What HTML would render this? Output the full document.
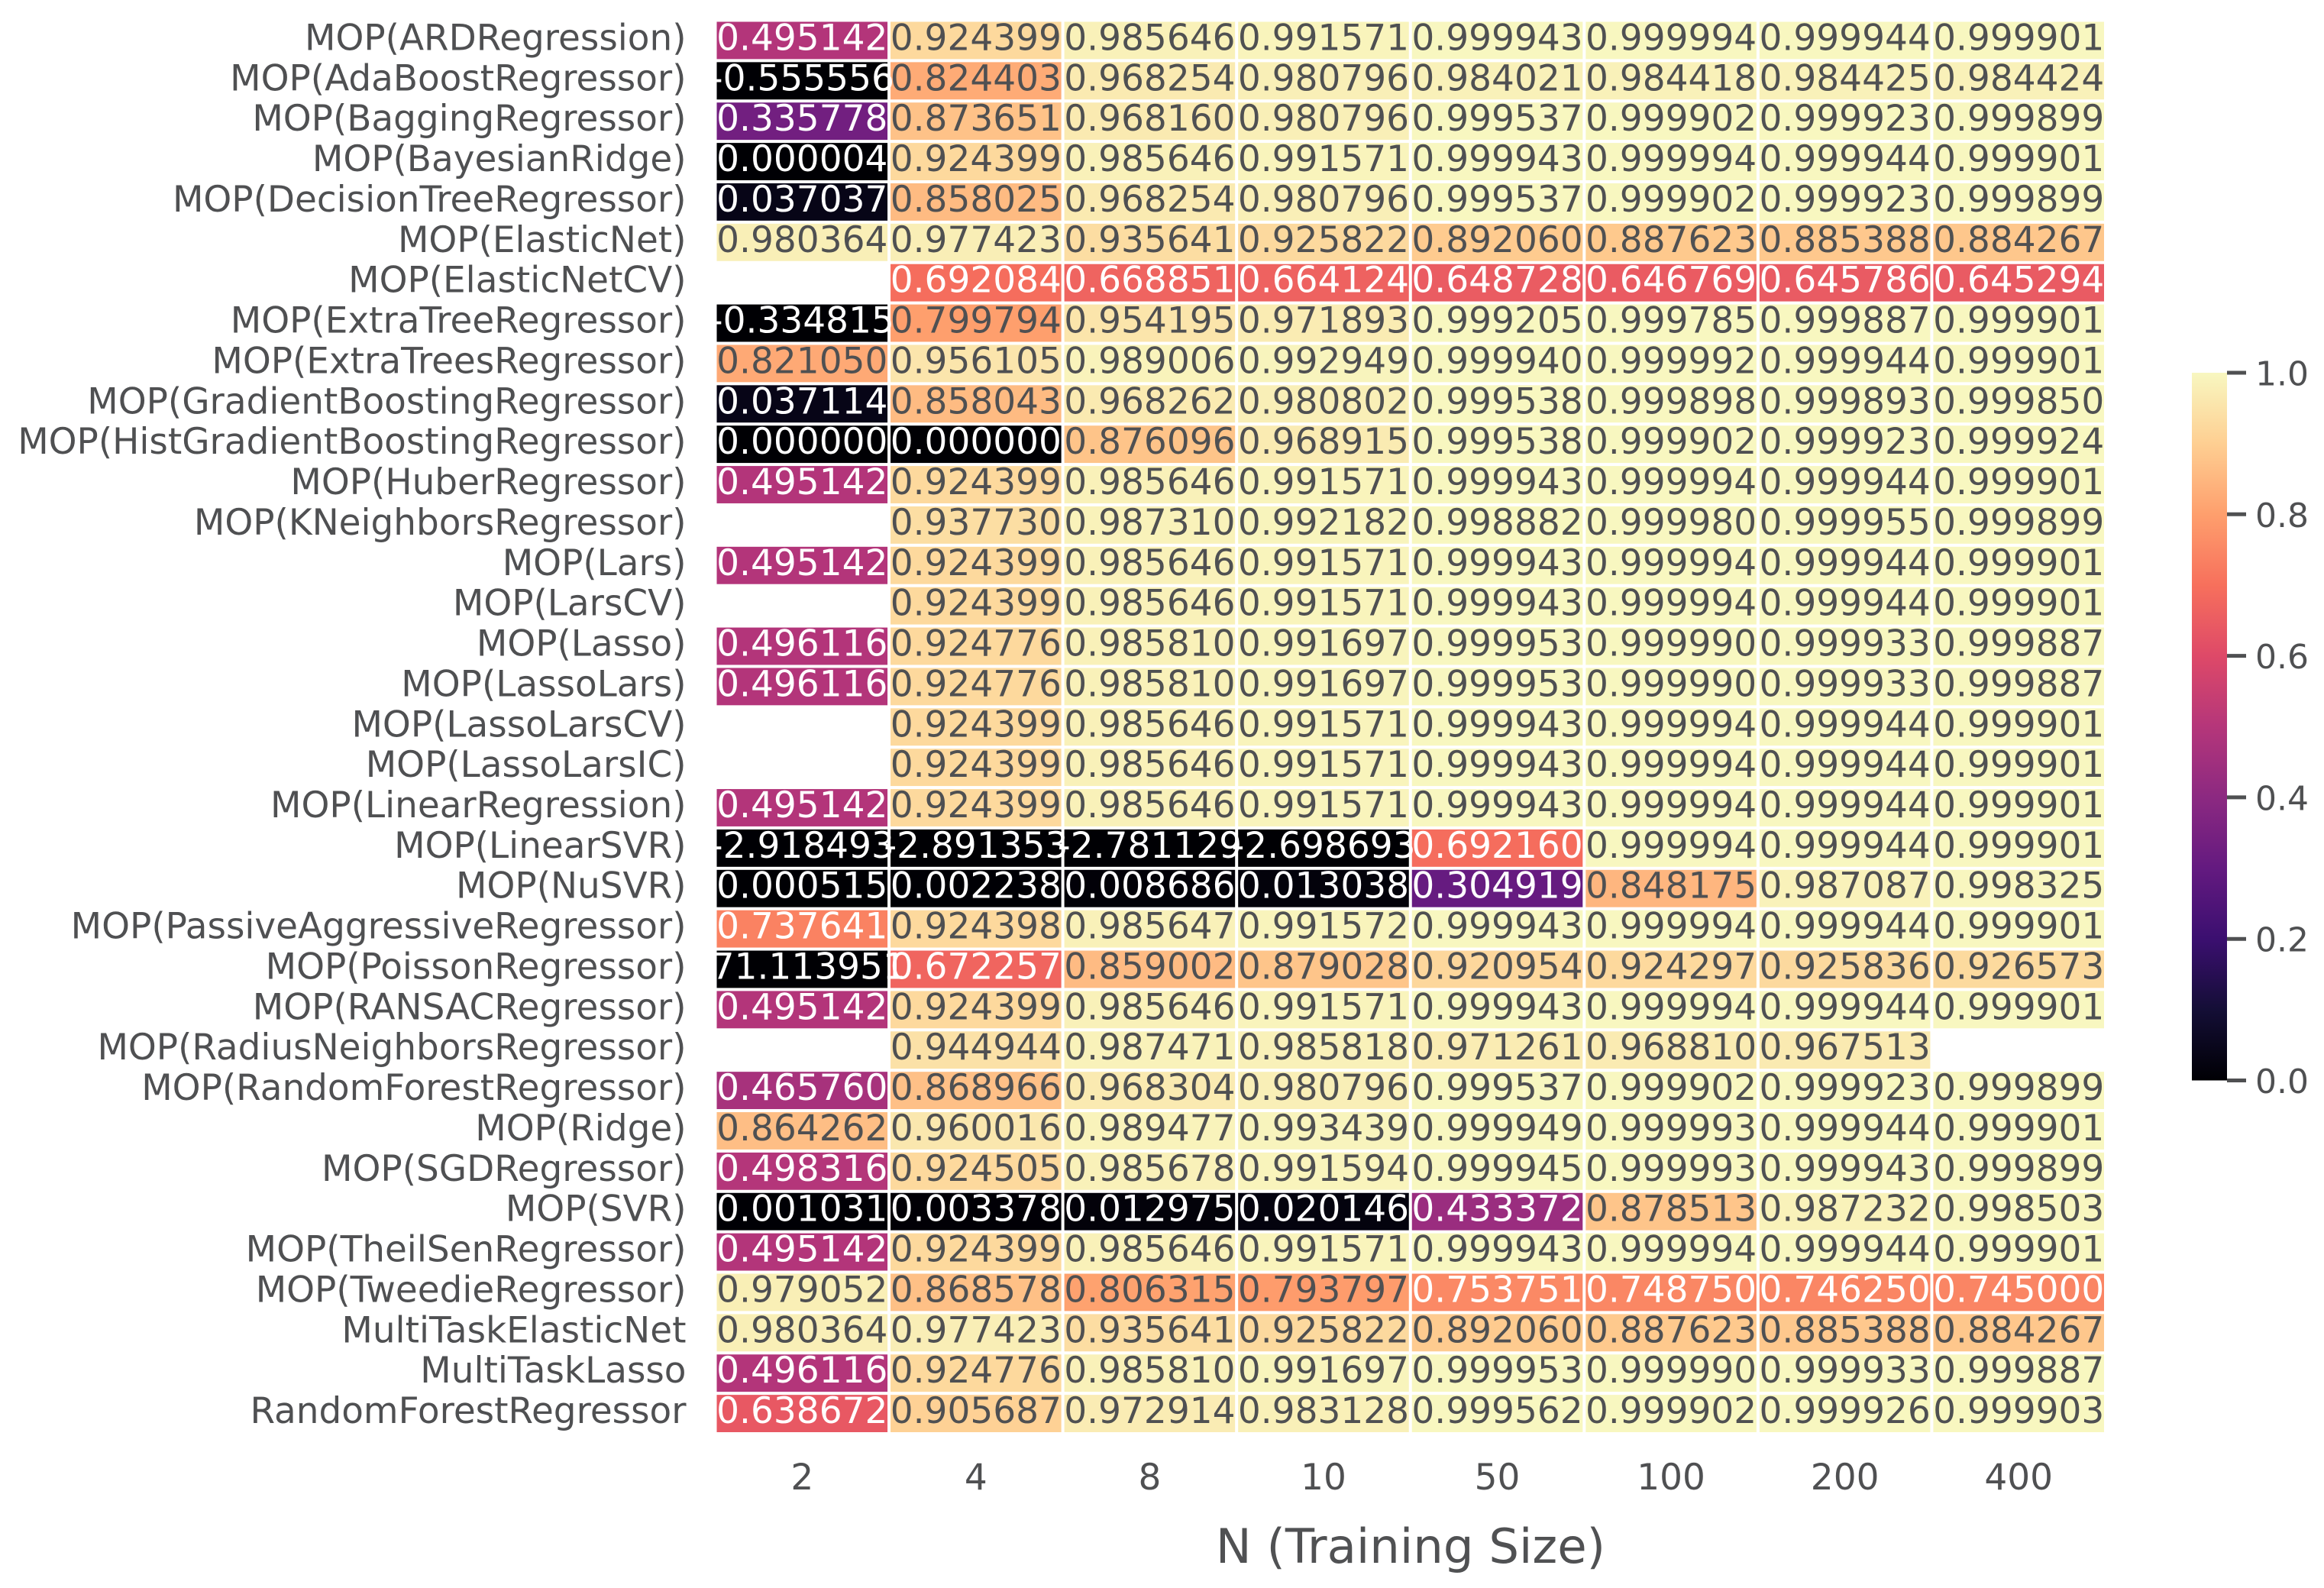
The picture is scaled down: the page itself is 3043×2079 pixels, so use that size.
<!DOCTYPE html>
<html>
<head>
<meta charset="utf-8">
<title>Heatmap of model score by training size</title>
<style>
html,body{margin:0;padding:0;background:#fff;}
svg{display:block;}
text{font-family:"DejaVu Sans","Liberation Sans",sans-serif;}
</style>
</head>
<body>
<svg id="chart" xmlns="http://www.w3.org/2000/svg" width="3043" height="2079" viewBox="0 0 3043 2079">
<rect x="0" y="0" width="3043" height="2079" fill="#ffffff"/>
<defs><linearGradient id="cbar-gradient" x1="0" y1="1" x2="0" y2="0"></linearGradient></defs>
<g id="cells"></g>
<g id="annots"></g>
<g id="ylabels"></g>
<g id="xlabels"></g>
<text x="1847" y="2046" text-anchor="middle" font-size="62.5" fill="#505153">N (Training Size)</text>
<g id="colorbar"></g>
</svg>
<script>
const models = ["MOP(ARDRegression)","MOP(AdaBoostRegressor)","MOP(BaggingRegressor)","MOP(BayesianRidge)","MOP(DecisionTreeRegressor)","MOP(ElasticNet)","MOP(ElasticNetCV)","MOP(ExtraTreeRegressor)","MOP(ExtraTreesRegressor)","MOP(GradientBoostingRegressor)","MOP(HistGradientBoostingRegressor)","MOP(HuberRegressor)","MOP(KNeighborsRegressor)","MOP(Lars)","MOP(LarsCV)","MOP(Lasso)","MOP(LassoLars)","MOP(LassoLarsCV)","MOP(LassoLarsIC)","MOP(LinearRegression)","MOP(LinearSVR)","MOP(NuSVR)","MOP(PassiveAggressiveRegressor)","MOP(PoissonRegressor)","MOP(RANSACRegressor)","MOP(RadiusNeighborsRegressor)","MOP(RandomForestRegressor)","MOP(Ridge)","MOP(SGDRegressor)","MOP(SVR)","MOP(TheilSenRegressor)","MOP(TweedieRegressor)","MultiTaskElasticNet","MultiTaskLasso","RandomForestRegressor"];
const trainingSizes = ["2","4","8","10","50","100","200","400"];
const scoresN2 = [0.495142,-0.555556,0.335778,0.000004,0.037037,0.980364,null,-0.334815,0.821050,0.037114,0.000000,0.495142,null,0.495142,null,0.496116,0.496116,null,null,0.495142,-2.918493,0.000515,0.737641,-71.113951,0.495142,null,0.465760,0.864262,0.498316,0.001031,0.495142,0.979052,0.980364,0.496116,0.638672];
const scoresN4 = [0.924399,0.824403,0.873651,0.924399,0.858025,0.977423,0.692084,0.799794,0.956105,0.858043,0.000000,0.924399,0.937730,0.924399,0.924399,0.924776,0.924776,0.924399,0.924399,0.924399,-2.891353,0.002238,0.924398,0.672257,0.924399,0.944944,0.868966,0.960016,0.924505,0.003378,0.924399,0.868578,0.977423,0.924776,0.905687];
const scoresN8 = [0.985646,0.968254,0.968160,0.985646,0.968254,0.935641,0.668851,0.954195,0.989006,0.968262,0.876096,0.985646,0.987310,0.985646,0.985646,0.985810,0.985810,0.985646,0.985646,0.985646,-2.781129,0.008686,0.985647,0.859002,0.985646,0.987471,0.968304,0.989477,0.985678,0.012975,0.985646,0.806315,0.935641,0.985810,0.972914];
const scoresN10 = [0.991571,0.980796,0.980796,0.991571,0.980796,0.925822,0.664124,0.971893,0.992949,0.980802,0.968915,0.991571,0.992182,0.991571,0.991571,0.991697,0.991697,0.991571,0.991571,0.991571,-2.698693,0.013038,0.991572,0.879028,0.991571,0.985818,0.980796,0.993439,0.991594,0.020146,0.991571,0.793797,0.925822,0.991697,0.983128];
const scoresN50 = [0.999943,0.984021,0.999537,0.999943,0.999537,0.892060,0.648728,0.999205,0.999940,0.999538,0.999538,0.999943,0.998882,0.999943,0.999943,0.999953,0.999953,0.999943,0.999943,0.999943,0.692160,0.304919,0.999943,0.920954,0.999943,0.971261,0.999537,0.999949,0.999945,0.433372,0.999943,0.753751,0.892060,0.999953,0.999562];
const scoresN100 = [0.999994,0.984418,0.999902,0.999994,0.999902,0.887623,0.646769,0.999785,0.999992,0.999898,0.999902,0.999994,0.999980,0.999994,0.999994,0.999990,0.999990,0.999994,0.999994,0.999994,0.999994,0.848175,0.999994,0.924297,0.999994,0.968810,0.999902,0.999993,0.999993,0.878513,0.999994,0.748750,0.887623,0.999990,0.999902];
const scoresN200 = [0.999944,0.984425,0.999923,0.999944,0.999923,0.885388,0.645786,0.999887,0.999944,0.999893,0.999923,0.999944,0.999955,0.999944,0.999944,0.999933,0.999933,0.999944,0.999944,0.999944,0.999944,0.987087,0.999944,0.925836,0.999944,0.967513,0.999923,0.999944,0.999943,0.987232,0.999944,0.746250,0.885388,0.999933,0.999926];
const scoresN400 = [0.999901,0.984424,0.999899,0.999901,0.999899,0.884267,0.645294,0.999901,0.999901,0.999850,0.999924,0.999901,0.999899,0.999901,0.999901,0.999887,0.999887,0.999901,0.999901,0.999901,0.999901,0.998325,0.999901,0.926573,0.999901,null,0.999899,0.999901,0.999899,0.998503,0.999901,0.745000,0.884267,0.999887,0.999903];
const colorbarTicks = ["0.0","0.2","0.4","0.6","0.8","1.0"];
const colormapStops = ["#000004","#140e36","#3b0f70","#641a80","#8c2981","#b5367a","#de4968","#f7705c","#fe9f6d","#fecf92","#f8f7c0"];

const scoreColumns = [scoresN2,scoresN4,scoresN8,scoresN10,scoresN50,scoresN100,scoresN200,scoresN400];
const NS = "http://www.w3.org/2000/svg";
const plotLeft = 936.5, plotRight = 2757, plotTop = 26.5, plotBottom = 1877;
const cbLeft = 2870, cbRight = 2916, cbTop = 488, cbBottom = 1414.5;
const darkText = "#4f5052";

function xScale(i){ return plotLeft + i * (plotRight - plotLeft) / trainingSizes.length; }
function yScale(i){ return plotTop + i * (plotBottom - plotTop) / models.length; }
function cbScale(v){ return cbBottom - v * (cbBottom - cbTop); }
function hexToRgb(h){ return [1,3,5].map(function(p){ return parseInt(h.substr(p,2),16); }); }
function colorRgb(v){
  const t = Math.max(0, Math.min(1, v)) * (colormapStops.length - 1);
  const k = Math.min(Math.floor(t), colormapStops.length - 2);
  const a = hexToRgb(colormapStops[k]), b = hexToRgb(colormapStops[k + 1]);
  return a.map(function(c, n){ return Math.round(c + (b[n] - c) * (t - k)); });
}
function luminance(rgb){
  const l = rgb.map(function(c){ const s = c / 255; return s <= 0.03928 ? s / 12.92 : Math.pow((s + 0.055) / 1.055, 2.4); });
  return 0.2126 * l[0] + 0.7152 * l[1] + 0.0722 * l[2];
}
function make(tag, attrs, parent, txt){
  const el = document.createElementNS(NS, tag);
  for (const k in attrs) el.setAttribute(k, attrs[k]);
  if (txt !== undefined) el.textContent = txt;
  parent.appendChild(el);
  return el;
}

const cellsG = document.getElementById("cells");
const annotsG = document.getElementById("annots");
const ylabelsG = document.getElementById("ylabels");
const xlabelsG = document.getElementById("xlabels");
const colorbarG = document.getElementById("colorbar");
const inset = 2;

models.forEach(function(name, r){
  const top = yScale(r), bottom = yScale(r + 1);
  const lab = make("text", {x: 898.5, y: (top + bottom) / 2 + 12.5, "text-anchor": "end", "font-size": 46.9, fill: darkText}, ylabelsG, name);
  
  
  scoreColumns.forEach(function(col, c){
    const v = col[r];
    if (v === null) return;
    const left = xScale(c), right = xScale(c + 1);
    const rgb = colorRgb(v);
    const cell = make("rect", {x: left + inset, y: top + inset, width: right - left - 2 * inset, height: bottom - top - 2 * inset, fill: "rgb(" + rgb.join(",") + ")"}, cellsG);
    
    
    const t = make("text", {x: (left + right) / 2, y: (top + bottom) / 2 + 12.5, "text-anchor": "middle", "font-size": 47, fill: luminance(rgb) > 0.408 ? darkText : "#ffffff"}, annotsG, v.toFixed(6));
    
    
  });
});

trainingSizes.forEach(function(s, c){
  const t = make("text", {x: (xScale(c) + xScale(c + 1)) / 2, y: 1950, "text-anchor": "middle", "font-size": 47, fill: darkText}, xlabelsG, s);
  
  
});

const grad = document.getElementById("cbar-gradient");
colormapStops.forEach(function(col, i){
  make("stop", {offset: i / (colormapStops.length - 1), "stop-color": col}, grad);
});
const cbBar = make("rect", {x: cbLeft, y: cbTop, width: cbRight - cbLeft, height: cbBottom - cbTop, fill: "url(#cbar-gradient)"}, colorbarG);


colorbarTicks.forEach(function(label){
  const y = cbScale(parseFloat(label));
  const tick = make("line", {x1: cbRight, x2: cbRight + 25, y1: y, y2: y, stroke: darkText, "stroke-width": 5}, colorbarG);
  
  
  const t = make("text", {x: 2953, y: y + 16.5, "font-size": 44, fill: darkText}, colorbarG, label);
  
  
});
</script>
</body>
</html>
